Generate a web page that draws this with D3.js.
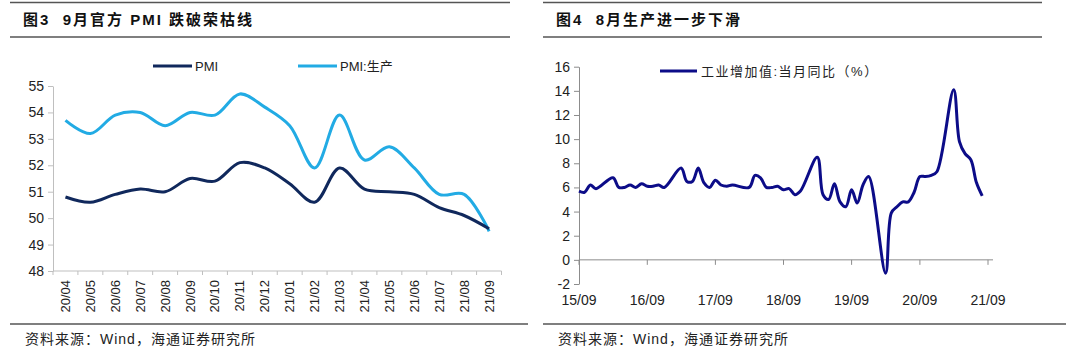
<!DOCTYPE html>
<html>
<head>
<meta charset="utf-8">
<script src="https://cdn.jsdelivr.net/npm/d3@7/dist/d3.min.js"></script>
<style>
  html, body { margin: 0; padding: 0; background: #fff; }
  svg { display: block; }
  text { font-family: "Liberation Sans", Arial, "Noto Sans CJK SC", sans-serif; white-space: pre; }
</style>
</head>
<body>
<svg id="chart" width="1080" height="358"></svg>
<script>
// ---------- Data: left chart (PMI) ----------
const pmiMonths = ["20/04","20/05","20/06","20/07","20/08","20/09","20/10","20/11","20/12",
                   "21/01","21/02","21/03","21/04","21/05","21/06","21/07","21/08","21/09"];
const pmiValues = [50.8,50.6,50.9,51.1,51.0,51.5,51.4,52.1,51.9,51.3,50.6,51.9,51.1,51.0,50.9,50.4,50.1,49.6];
const pmiProdValues = [53.7,53.2,53.9,54.0,53.5,54.0,53.9,54.7,54.2,53.5,51.9,53.9,52.2,52.7,51.9,50.9,50.9,49.5];
const leftYTicks = [48,49,50,51,52,53,54,55];

// ---------- Data: right chart (industrial value added, monthly YoY %) ----------
const iavMonths = ["2015-09","2015-10","2015-11","2015-12",
  "2016-03","2016-04","2016-05","2016-06","2016-07","2016-08","2016-09","2016-10","2016-11","2016-12",
  "2017-03","2017-04","2017-05","2017-06","2017-07","2017-08","2017-09","2017-10","2017-11","2017-12",
  "2018-03","2018-04","2018-05","2018-06","2018-07","2018-08","2018-09","2018-10","2018-11","2018-12",
  "2019-03","2019-04","2019-05","2019-06","2019-07","2019-08","2019-09","2019-10","2019-11","2019-12",
  "2020-03","2020-04","2020-05","2020-06","2020-07","2020-08","2020-09","2020-10","2020-11","2020-12",
  "2021-03","2021-04","2021-05","2021-06","2021-07","2021-08"];
const iavValues = [5.7,5.6,6.2,5.9,
  6.8,6.0,6.0,6.2,6.0,6.3,6.1,6.1,6.2,6.0,
  7.6,6.5,6.5,7.6,6.4,6.0,6.6,6.2,6.1,6.2,
  6.0,7.0,6.8,6.0,6.0,6.1,5.8,5.9,5.4,5.7,
  8.5,5.4,5.0,6.3,4.8,4.4,5.8,4.7,6.2,6.9,
  -1.1,3.9,4.4,4.8,4.8,5.6,6.9,6.9,7.0,7.3,
  14.1,9.8,8.8,8.3,6.4,5.3];
const rightXTicks = ["2015-09","2016-09","2017-09","2018-09","2019-09","2020-09","2021-09"];
const rightXTickLabels = ["15/09","16/09","17/09","18/09","19/09","20/09","21/09"];
const rightYTicks = [-2,0,2,4,6,8,10,12,14,16];

// ---------- Text ----------
const leftTitle = "图3  9月官方 PMI 跌破荣枯线";
const rightTitle = "图4  8月生产进一步下滑";
const leftLegend = ["PMI", "PMI:生产"];
const rightLegend = "工业增加值:当月同比（%）";
const sourceText = "资料来源：Wind，海通证券研究所";

const svg = d3.select("#chart");
const navy = "#10285c", lightBlue = "#22abe4", darkBlue = "#0c0c88";
const parse = d3.timeParse("%Y-%m");

// ---------- Frame: titles and rules ----------
function frame(x0, x1, fx1, title, tx) {
  svg.append("line").attr("x1", x0).attr("x2", x1).attr("y1", 2.5).attr("y2", 2.5)
    .attr("stroke", "#555").attr("stroke-width", 1.5);
  svg.append("line").attr("x1", x0).attr("x2", x1).attr("y1", 37).attr("y2", 37)
    .attr("stroke", "#555").attr("stroke-width", 1.5);
  svg.append("line").attr("x1", x0).attr("x2", fx1).attr("y1", 324).attr("y2", 324)
    .attr("stroke", "#555").attr("stroke-width", 1.5);
  svg.append("text").attr("x", tx).attr("y", 25)
    .attr("font-size", 15).attr("font-weight", "bold").attr("fill", "#111")
    .attr("letter-spacing", 2).text(title);
  svg.append("text").attr("x", tx + 2).attr("y", 344)
    .attr("font-size", 14).attr("fill", "#222").attr("letter-spacing", 1)
    .attr("font-family", "'Noto Sans CJK SC', sans-serif").text(sourceText);
}
frame(10, 510, 528, leftTitle, 23);
frame(543, 1042, 1066, rightTitle, 556);

// ---------- Left chart ----------
{
  const x = d3.scaleBand().domain(pmiMonths).range([53, 501.5]);
  const y = d3.scaleLinear().domain([48, 55]).range([271, 86]);
  const axisColor = "#bfbfbf";

  const gy = svg.append("g").attr("transform", "translate(53,0)")
    .call(d3.axisLeft(y).tickValues(leftYTicks).tickFormat(d3.format("d"))
      .tickSize(5).tickSizeOuter(0).tickPadding(4));
  gy.select(".domain").attr("stroke", axisColor);
  gy.selectAll(".tick line").attr("stroke", axisColor);
  gy.selectAll(".tick text").attr("font-size", 14).attr("fill", "#222")
    .attr("font-family", "'Liberation Sans', Arial, sans-serif");

  const gx = svg.append("g").attr("transform", "translate(0,271)");
  gx.append("line").attr("x1", 53).attr("x2", 501.5).attr("stroke", axisColor);
  const bounds = pmiMonths.map(m => x(m)).concat([x.range()[1]]);
  gx.selectAll("line.t").data(bounds).join("line").attr("class", "t")
    .attr("x1", d => d).attr("x2", d => d).attr("y1", 0).attr("y2", 4).attr("stroke", axisColor);
  gx.selectAll("text").data(pmiMonths).join("text")
    .attr("transform", d => `translate(${x(d) + x.bandwidth() / 2 + 4.5},9) rotate(-90)`)
    .attr("text-anchor", "end").attr("font-size", 13).attr("fill", "#222")
    .attr("font-family", "'Liberation Sans', Arial, sans-serif")
    .text(d => d);

  const line = vals => d3.line()
    .x((d, i) => x(pmiMonths[i]) + x.bandwidth() / 2)
    .y(d => y(d))
    .curve(d3.curveCatmullRom.alpha(0.5))(vals);

  svg.append("path").attr("d", line(pmiProdValues)).attr("fill", "none")
    .attr("stroke", lightBlue).attr("stroke-width", 3);
  svg.append("path").attr("d", line(pmiValues)).attr("fill", "none")
    .attr("stroke", navy).attr("stroke-width", 3);

  // legend
  const lg = [{ x: 153, c: navy, t: leftLegend[0] }, { x: 298, c: lightBlue, t: leftLegend[1] }];
  lg.forEach(l => {
    svg.append("line").attr("x1", l.x).attr("x2", l.x + 39).attr("y1", 66).attr("y2", 66)
      .attr("stroke", l.c).attr("stroke-width", 3);
    svg.append("text").attr("x", l.x + 42).attr("y", 70.5).attr("font-size", 13)
      .attr("fill", "#222").text(l.t);
  });
}

// ---------- Right chart ----------
{
  const x = d3.scaleTime().domain([parse("2015-09"), parse("2021-09")]).range([579, 988]);
  const y = d3.scaleLinear().domain([-2, 16]).range([284, 66.7]);
  const axisColor = "#8c8c8c";

  const gy = svg.append("g").attr("transform", "translate(579,0)")
    .call(d3.axisLeft(y).tickValues(rightYTicks).tickSize(5).tickSizeOuter(0).tickPadding(4)
      .tickFormat(d => d < 0 ? "-" + Math.abs(d) : d));
  gy.select(".domain").attr("stroke", axisColor);
  gy.selectAll(".tick line").attr("stroke", axisColor);
  gy.selectAll(".tick text").attr("font-size", 14).attr("fill", "#222")
    .attr("font-family", "'Liberation Sans', Arial, sans-serif");

  const gx = svg.append("g").attr("transform", `translate(0,${y(0)})`);
  gx.append("line").attr("x1", 579).attr("x2", 993).attr("stroke", axisColor);
  gx.selectAll("line.t").data(rightXTicks).join("line").attr("class", "t")
    .attr("x1", d => x(parse(d))).attr("x2", d => x(parse(d)))
    .attr("y1", 0).attr("y2", 5).attr("stroke", axisColor);
  svg.append("g").selectAll("text").data(rightXTicks).join("text")
    .attr("x", d => x(parse(d))).attr("y", 305)
    .attr("text-anchor", "middle").attr("font-size", 14).attr("fill", "#222")
    .attr("font-family", "'Liberation Sans', Arial, sans-serif")
    .text((d, i) => rightXTickLabels[i]);

  const line = d3.line()
    .x((d, i) => x(parse(iavMonths[i])))
    .y(d => y(d))
    .curve(d3.curveCatmullRom.alpha(0.5));
  svg.append("path").attr("d", line(iavValues)).attr("fill", "none")
    .attr("stroke", darkBlue).attr("stroke-width", 3);

  svg.append("line").attr("x1", 660).attr("x2", 697).attr("y1", 71).attr("y2", 71)
    .attr("stroke", darkBlue).attr("stroke-width", 3);
  svg.append("text").attr("x", 701).attr("y", 75.5).attr("font-size", 13)
    .attr("letter-spacing", 1.5).attr("fill", "#222")
    .attr("font-family", "'Noto Sans CJK SC', sans-serif").text(rightLegend);
}
</script>
</body>
</html>
